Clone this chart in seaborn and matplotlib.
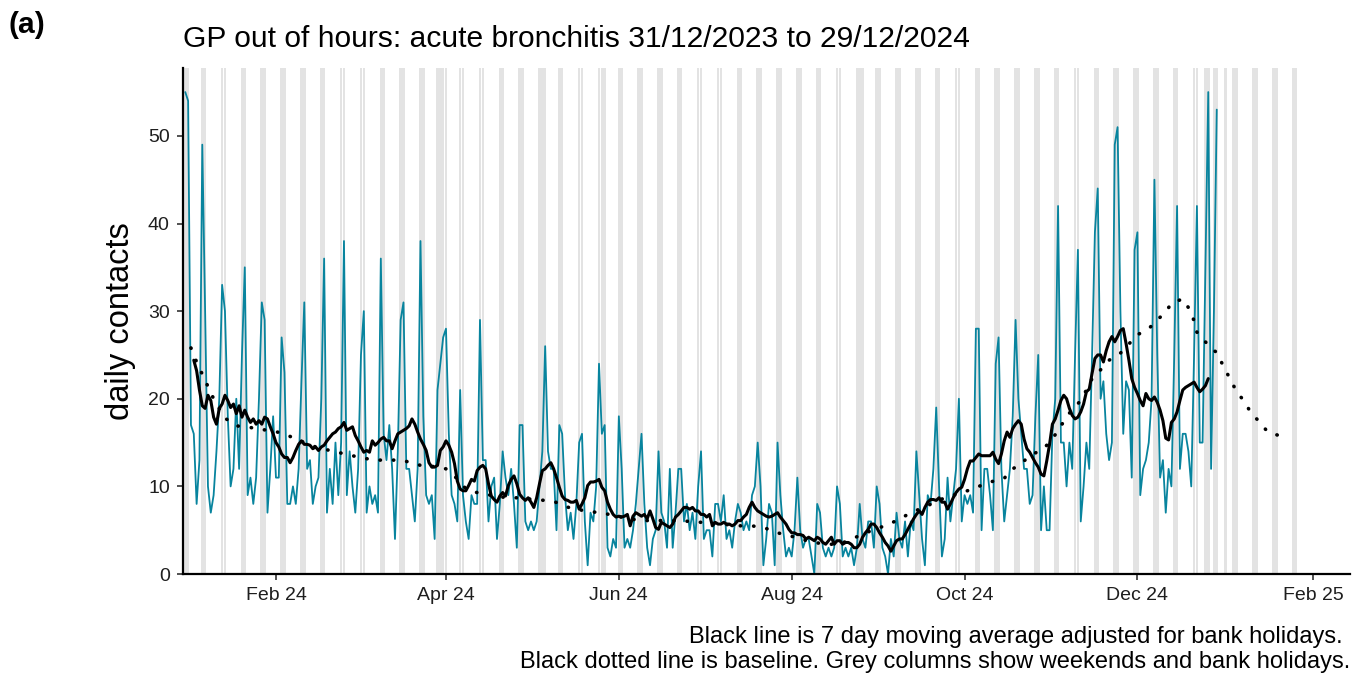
import matplotlib
matplotlib.use("Agg")
import matplotlib.dates as mdates
import matplotlib.pyplot as plt
import pandas as pd
import seaborn as sns

# daily contacts, one per day from 31/12/2023
start = "2023-12-31"
daily_contacts = [
    55, 54, 17, 16, 8, 13, 49,
    30, 10, 7, 9, 14, 20, 33,
    30, 18, 10, 12, 20, 12, 25,
    35, 9, 11, 8, 11, 20, 31,
    29, 7, 12, 18, 11, 11, 27,
    23, 8, 8, 10, 8, 12, 22,
    31, 12, 13, 8, 10, 11, 20,
    36, 7, 12, 8, 15, 9, 15,
    38, 9, 14, 10, 7, 12, 25,
    30, 7, 10, 8, 9, 7, 36,
    16, 13, 17, 12, 4, 14, 29,
    31, 12, 12, 9, 6, 12, 38,
    18, 9, 8, 9, 4, 21, 24,
    27, 28, 16, 9, 8, 6, 21,
    9, 6, 4, 9, 8, 8, 29,
    13, 13, 6, 10, 11, 4, 8,
    14, 11, 9, 12, 8, 3, 17,
    17, 6, 5, 6, 5, 6, 10,
    14, 26, 14, 12, 12, 5, 17,
    16, 9, 5, 7, 4, 8, 15,
    16, 6, 1, 7, 6, 10, 24,
    16, 17, 3, 2, 4, 3, 18,
    12, 3, 4, 3, 5, 8, 12,
    16, 8, 3, 1, 4, 5, 14,
    7, 6, 3, 12, 3, 7, 12,
    12, 6, 8, 5, 7, 4, 10,
    14, 4, 5, 5, 2, 8, 8,
    6, 9, 4, 5, 3, 6, 8,
    7, 5, 6, 5, 9, 10, 15,
    10, 1, 4, 8, 7, 1, 15,
    9, 5, 2, 3, 2, 5, 11,
    5, 3, 4, 4, 2, 0, 8,
    7, 3, 2, 3, 2, 3, 10,
    8, 2, 3, 2, 3, 1, 3,
    8, 4, 3, 6, 6, 3, 10,
    8, 3, 2, 0, 4, 2, 7,
    4, 3, 6, 2, 6, 5, 14,
    9, 4, 1, 9, 8, 12, 19,
    10, 2, 4, 11, 6, 9, 12,
    20, 6, 9, 8, 9, 7, 28,
    28, 5, 12, 12, 9, 5, 24,
    27, 12, 6, 9, 12, 18, 29,
    20, 16, 12, 12, 8, 9, 18,
    25, 5, 10, 5, 5, 16, 20,
    42, 15, 15, 10, 15, 12, 25,
    37, 6, 10, 15, 12, 25, 39,
    44, 20, 22, 16, 13, 15, 49,
    51, 30, 16, 22, 21, 11, 37,
    39, 9, 12, 13, 15, 20, 45,
    25, 11, 13, 7, 12, 10, 25,
    42, 12, 16, 16, 14, 10, 25,
    42, 15, 15, 35, 55, 12, 30,
    53,
]

# 7 day moving average (black line), daily from 03/01/2024
ma_start = "2024-01-03"
moving_avg = [
    24.4, 23.2, 21.0, 19.2, 18.9, 20.4, 19.8, 17.9, 17.1, 18.9, 19.4, 20.4,
    19.8, 19.0, 19.4, 18.3, 19.2, 17.9, 18.7, 17.9, 17.3, 17.7, 17.1, 17.5,
    17.1, 17.9, 17.7, 16.8, 16.0, 15.0, 14.5, 13.7, 13.3, 13.3, 12.7, 13.3,
    14.1, 14.8, 15.2, 14.8, 14.8, 14.7, 14.3,
    14.5, 14.1, 14.5, 14.7, 15.2, 15.6, 16.0, 16.2, 16.6, 16.8, 17.3, 16.4,
    16.6, 16.8, 15.8, 15.2, 14.5, 13.9, 14.1, 13.9, 15.2, 14.7, 15.0, 15.4,
    15.6, 15.2, 15.2, 14.3, 15.2, 16.0, 16.2, 16.4, 16.6, 16.9, 17.7, 17.1,
    16.2, 15.4, 14.8, 14.1, 12.7, 12.2, 12.2, 12.4, 14.1, 14.5,
    15.2, 14.7, 13.9, 12.6, 10.6, 9.7, 9.5, 9.5, 10.1, 10.8, 10.6, 11.8,
    12.2, 12.4, 12.0, 10.3, 8.9, 8.5, 8.2, 8.9, 9.3, 8.9, 10.1, 10.8,
    11.2, 10.3, 9.1, 8.7, 8.4, 8.7, 8.2, 7.6, 8.7, 10.3, 11.8, 12.0,
    12.4, 12.7, 12.0, 11.0, 9.9, 8.9, 8.5, 8.4, 8.2, 8.2,
    8.4, 7.4, 8.0, 8.7, 10.1, 10.5, 10.5, 10.6, 10.8, 9.9, 9.5, 8.2,
    7.4, 6.8, 6.5, 6.6, 6.5, 6.6, 6.8, 5.5, 6.6, 7.0, 6.8, 6.6,
    6.8, 6.3, 7.2, 6.3, 5.3, 5.1, 5.9, 5.7, 5.5, 5.3, 5.7, 6.5,
    6.8, 7.2, 7.6, 7.6, 7.4, 7.6, 7.2, 7.2, 6.8,
    6.8, 6.5, 6.8, 5.5, 5.9, 5.7, 5.7, 5.9, 5.7, 5.7, 5.5, 5.7,
    6.1, 6.1, 6.5, 6.8, 7.6, 8.2, 7.6, 7.2, 7.0, 6.8, 6.6, 6.5,
    6.6, 6.8, 7.0, 6.5, 6.1, 5.7, 5.1, 4.7, 4.7, 4.5, 4.5, 4.4,
    4.0, 4.2, 4.0, 3.8, 4.2, 4.0, 3.6, 3.4, 3.8, 4.2,
    3.4, 3.8, 3.8, 3.4, 3.6, 3.6, 3.4, 3.0, 3.0, 3.4, 4.2, 4.7,
    5.1, 5.7, 5.7, 5.3, 4.7, 4.2, 3.6, 3.2, 2.6, 3.2, 3.8, 4.0,
    4.0, 4.5, 5.1, 5.7, 6.3, 6.8, 7.2, 6.8, 7.6, 8.2, 8.5, 8.5,
    8.4, 8.7, 8.2, 8.2, 7.4, 8.0, 8.7, 9.3, 9.7, 9.9,
    10.8, 12.0, 12.9, 12.9, 13.3, 13.7, 13.5, 13.5, 13.5, 13.5, 13.9, 13.1,
    12.6, 13.7, 15.2, 16.2, 15.6, 16.6, 17.1, 17.5, 17.1, 15.4, 14.3, 13.9,
    13.3, 12.7, 12.2, 11.4, 11.2, 12.9, 14.8, 17.1, 17.7, 18.7, 19.8, 20.4,
    20.0, 18.9, 18.1, 17.7, 17.9, 18.5, 19.4, 20.8,
    21.1, 22.9, 24.6, 25.0, 25.0, 24.2, 25.5, 26.5, 27.1, 26.5, 27.1, 27.8,
    28.0, 26.3, 24.4, 22.3, 21.3, 20.6, 19.8, 19.2, 20.6, 20.0, 19.8, 20.2,
    19.6, 18.7, 17.5, 15.5, 15.3, 17.3, 17.7, 18.5, 19.8, 21.0, 21.3, 21.5,
    21.7, 21.9, 21.3, 20.8, 21.1, 21.5, 22.3,
]

# baseline (dotted line): days after 31/12/2023 and value
baseline_day = [
    2, 4, 6, 8, 10, 14, 18, 22, 26, 30, 35, 39, 46, 51, 55, 59, 63, 68, 72,
    76, 80, 85, 88, 92, 95, 98, 101, 105, 109, 114, 118, 123, 127, 130, 134,
    138, 143, 147, 152, 156, 160, 166, 174, 178, 182, 189, 196, 200, 205,
    209, 213, 217, 222, 226, 231, 235, 239, 243, 247, 251, 255, 259, 264,
    268, 272, 276, 280, 284, 289, 291, 295, 298, 303, 308, 311, 316, 318,
    320, 323, 326, 330, 336, 340, 343, 346, 348, 352, 354, 356, 357, 359,
    362, 364, 365, 367, 369, 371, 374, 376, 379, 382, 386,
]
baseline_vals = [
    25.8, 24.2, 22.8, 21.4, 20.0, 17.8, 16.9, 16.8, 16.5, 16.4, 16.0, 15.4,
    14.5, 14.1, 13.8, 13.5, 13.2, 13.0, 13.0, 13.0, 12.7, 12.2, 12.3, 12.0,
    11.2, 10.0, 9.4, 9.2, 8.9, 8.7, 8.7, 8.5, 8.4, 8.3, 7.7, 7.4, 7.1, 7.0,
    6.6, 6.4, 6.1, 6.1, 6.1, 6.0, 5.9, 5.7, 5.5, 5.5, 5.2, 4.7, 4.4, 4.0,
    3.6, 3.4, 3.4, 4.0, 4.5, 5.1, 5.5, 6.1, 6.8, 7.4, 8.1, 8.7, 9.1, 9.5,
    10.0, 10.5, 10.9, 11.8, 12.6, 13.5, 14.3, 16.3, 18.0, 19.8, 21.0, 22.3,
    23.3, 24.4, 25.2, 27.3, 28.0, 29.0, 29.9, 30.9, 31.4, 30.4, 28.9, 27.6,
    26.9, 25.7, 25.3, 24.6, 23.3, 22.1, 20.8, 19.6, 18.4, 17.4, 16.2, 15.8,
]

bank_holidays = ["2024-01-01", "2024-03-29", "2024-04-01", "2024-05-06",
                 "2024-05-27", "2024-08-26", "2024-12-25", "2024-12-26",
                 "2025-01-01"]
shade_end = "2025-01-26"

df = pd.DataFrame({"date": pd.date_range(start, periods=len(daily_contacts)),
                   "contacts": daily_contacts})
ma = pd.DataFrame({"date": pd.date_range(ma_start, periods=len(moving_avg)),
                   "ma": moving_avg})
base = pd.DataFrame({"date": pd.Timestamp(start) + pd.to_timedelta(baseline_day, unit="D"),
                     "baseline": baseline_vals})

days = pd.date_range(start, shade_end)
shade = days[(days.dayofweek >= 5) | days.isin(pd.to_datetime(bank_holidays))]

sns.set_theme(style="ticks")
plt.rcParams["font.family"] = ["Liberation Sans", "DejaVu Sans"]
plt.rcParams["text.color"] = "black"

fig, ax = plt.subplots(figsize=(13.68, 6.75), dpi=100)
fig.subplots_adjust(left=0.1338, right=0.9868, bottom=0.1496, top=0.8993)

# grey columns for weekends and bank holidays
for d in shade:
    x = mdates.date2num(d)
    ax.axvspan(x - 0.46, x + 0.46, color="#e3e3e3", lw=0, zorder=0)

sns.lineplot(data=df, x="date", y="contacts", color="#08849e", lw=1.3,
             estimator=None, ax=ax, zorder=2)
sns.lineplot(data=ma, x="date", y="ma", color="black", lw=2.2,
             estimator=None, ax=ax, zorder=3)
sns.lineplot(data=base, x="date", y="baseline", color="black", lw=2.6,
             estimator=None, ax=ax, zorder=3, linestyle=(0, (0.1, 3.6)),
             dash_capstyle="round")

ax.set_xlim(mdates.date2num(pd.Timestamp("2023-12-30 05:00")),
            mdates.date2num(pd.Timestamp("2025-02-14")))
ax.set_ylim(0, 57.75)
ax.set_yticks([0, 10, 20, 30, 40, 50])
ax.xaxis.set_major_locator(mdates.MonthLocator(bymonth=[2, 4, 6, 8, 10, 12]))
ax.xaxis.set_major_formatter(mdates.DateFormatter("%b %y"))
ax.set_xlabel("")
ax.set_ylabel("")
ax.tick_params(labelsize=14, length=4.5, width=1.2, pad=5,
               color="#333333", labelcolor="#1e1e1e")
sns.despine(ax=ax)
for s in ["left", "bottom"]:
    ax.spines[s].set_color("black")
    ax.spines[s].set_linewidth(1.6)

fig.text(120 / 1368, 0.5244, "daily contacts", rotation=90, fontsize=23.5,
         ha="center", va="center")
fig.text(0.1338, 1 - 47 / 675, "GP out of hours: acute bronchitis 31/12/2023 to 29/12/2024",
         fontsize=21.6, ha="left", va="baseline")
fig.text(0.006, 1 - 33 / 675, "(a)", fontsize=21.6, fontweight="bold",
         ha="left", va="baseline")
fig.text(1343 / 1368, 1 - 643 / 675,
         "Black line is 7 day moving average adjusted for bank holidays.",
         fontsize=17, ha="right", va="baseline")
fig.text(1350 / 1368, 1 - 668 / 675,
         "Black dotted line is baseline. Grey columns show weekends and bank holidays.",
         fontsize=17, ha="right", va="baseline")

fig.savefig("out.png", dpi=100)
